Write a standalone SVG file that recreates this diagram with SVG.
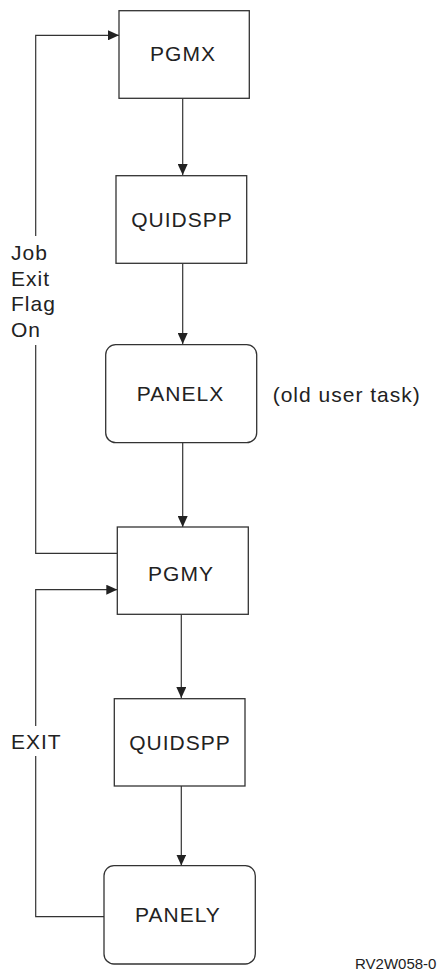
<svg xmlns="http://www.w3.org/2000/svg" width="439" height="972" viewBox="0 0 439 972">
<defs>
<style>
.box{fill:#fff;stroke:#333;stroke-width:1.3}
.lbl{font-family:"Liberation Sans",Arial,sans-serif;font-size:21px;letter-spacing:1px;fill:#222;text-anchor:middle}
.side{font-family:"Liberation Sans",Arial,sans-serif;font-size:21px;letter-spacing:1px;fill:#222}
.conn{fill:none;stroke:#333;stroke-width:1.2}
</style>
<marker id="ah" markerWidth="11" markerHeight="10" refX="11" refY="5" orient="auto" markerUnits="userSpaceOnUse">
<path d="M0,0 L11,5 L0,10 Z" fill="#222"/>
</marker>
</defs>
<rect width="439" height="972" fill="#fff"/>
<g id="connectors">
<path class="conn" d="M182.7,98.3 V175" marker-end="url(#ah)"/>
<path class="conn" d="M182.7,263.3 V344" marker-end="url(#ah)"/>
<path class="conn" d="M182.7,442.7 V527" marker-end="url(#ah)"/>
<path class="conn" d="M181.3,614.3 V698" marker-end="url(#ah)"/>
<path class="conn" d="M181.3,786 V865.5" marker-end="url(#ah)"/>
<path class="conn" d="M117.3,553.3 H35.7 V345"/>
<path class="conn" d="M35.7,236 V35.3 H119" marker-end="url(#ah)"/>
<path class="conn" d="M104,916.7 H35.7 V756"/>
<path class="conn" d="M35.7,726 V589.7 H117.3" marker-end="url(#ah)"/>
<text class="side" x="11" y="259.5">Job</text>
<text class="side" x="11" y="285.5">Exit</text>
<text class="side" x="11" y="310.5">Flag</text>
<text class="side" x="11" y="336.5">On</text>
<text class="side" x="11" y="749">EXIT</text>
</g>
<g id="PGMX">
<rect class="box" x="119" y="10.7" width="130.3" height="87.6"/>
<text class="lbl" x="183" y="61">PGMX</text>
</g>
<g id="QUIDSPP1">
<rect class="box" x="116" y="175.7" width="130.7" height="87.6"/>
<text class="lbl" x="182" y="227">QUIDSPP</text>
</g>
<g id="PANELX">
<rect class="box" x="105.7" y="344.7" width="151" height="98" rx="10" ry="10"/>
<text class="lbl" x="180.5" y="401">PANELX</text>
<text class="side" x="272.7" y="401.5">(old user task)</text>
</g>
<g id="PGMY">
<rect class="box" x="117.3" y="527" width="131" height="87.3"/>
<text class="lbl" x="181" y="580.7">PGMY</text>
</g>
<g id="QUIDSPP2">
<rect class="box" x="114.3" y="698.7" width="130.7" height="87.3"/>
<text class="lbl" x="180" y="750">QUIDSPP</text>
</g>
<g id="PANELY">
<rect class="box" x="104" y="865.7" width="151.3" height="98.3" rx="10" ry="10"/>
<text class="lbl" x="178" y="921.7">PANELY</text>
</g>
<text x="355" y="969" font-family="Liberation Sans, Arial, sans-serif" font-size="15" fill="#222">RV2W058-0</text>
</svg>
